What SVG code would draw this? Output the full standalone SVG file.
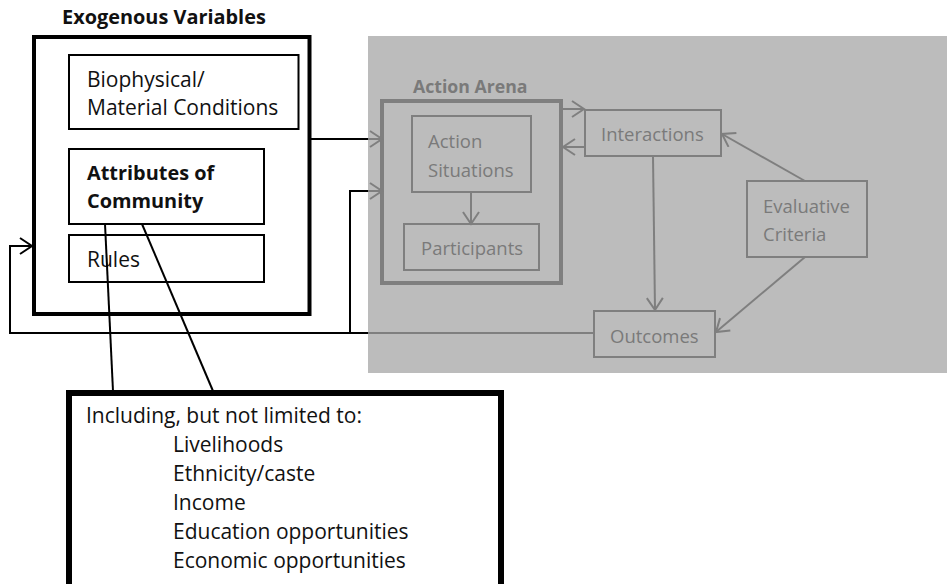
<svg xmlns="http://www.w3.org/2000/svg" width="947" height="584" viewBox="0 0 947 584">
  <style>
    text { font-family: "Open Sans", "Liberation Sans", sans-serif; font-size: 18.5px; }
    .b { font-weight: bold; }
    .dk { fill: #111; font-size: 21px; }
    .dk.b { font-size: 19.9px; }
    .gy { fill: #7a7a7a; }
    .gy.b { font-size: 17.7px; }
    .box { fill: none; stroke: #000; stroke-width: 2; }
    .gbox { fill: none; stroke: #7f7f7f; stroke-width: 2; }
    .ln { fill: none; stroke: #000; stroke-width: 2; }
    .gln { fill: none; stroke: #7f7f7f; stroke-width: 2; }
  </style>
  <defs>
    <marker id="ah" markerUnits="userSpaceOnUse" markerWidth="16" markerHeight="20" refX="13" refY="9" orient="auto">
      <path d="M1,1 L13,9 L1,17" fill="none" stroke="#000" stroke-width="2"/>
    </marker>
    <marker id="ahg" markerUnits="userSpaceOnUse" markerWidth="16" markerHeight="20" refX="13" refY="9" orient="auto">
      <path d="M1,1 L13,9 L1,17" fill="none" stroke="#7f7f7f" stroke-width="2"/>
    </marker>
  </defs>

  <rect width="947" height="584" fill="#fff"/>

  <!-- shaded panel behind the action arena part -->
  <rect id="panel" x="368" y="36" width="579" height="337" fill="#bcbcbc"/>

  <!-- exogenous variables -->
  <g id="exogenous">
    <text class="b dk" x="62" y="24">Exogenous Variables</text>
    <rect x="34" y="37" width="275.5" height="277" fill="none" stroke="#000" stroke-width="4"/>
  </g>
  <g id="biophysical">
    <rect class="box" x="69" y="55" width="229.5" height="74"/>
    <text class="dk" x="87" y="87">Biophysical/</text>
    <text class="dk" x="87" y="115">Material Conditions</text>
  </g>
  <g id="attributes">
    <rect class="box" x="69" y="149" width="195" height="75"/>
    <text class="b dk" x="87" y="180">Attributes of</text>
    <text class="b dk" x="87" y="208">Community</text>
  </g>
  <g id="rules">
    <rect class="box" x="69" y="235" width="195" height="47"/>
    <text class="dk" x="87" y="267">Rules</text>
  </g>

  <!-- action arena -->
  <g id="action-arena">
    <text class="b gy" x="413" y="93">Action Arena</text>
    <rect x="382" y="101" width="179" height="182" fill="none" stroke="#7f7f7f" stroke-width="4"/>
  </g>
  <g id="action-situations">
    <rect class="gbox" x="412" y="116" width="119" height="76"/>
    <text class="gy" x="428" y="148">Action</text>
    <text class="gy" x="428" y="177">Situations</text>
  </g>
  <g id="participants">
    <rect class="gbox" x="404" y="224" width="135" height="46"/>
    <text class="gy" x="421" y="255">Participants</text>
  </g>
  <g id="interactions">
    <rect class="gbox" x="585" y="110" width="136" height="46"/>
    <text class="gy" x="601" y="141">Interactions</text>
  </g>
  <g id="evaluative-criteria">
    <rect class="gbox" x="747" y="181" width="120" height="76"/>
    <text class="gy" x="763" y="213">Evaluative</text>
    <text class="gy" x="763" y="241">Criteria</text>
  </g>
  <g id="outcomes">
    <rect class="gbox" x="594" y="311" width="121" height="46"/>
    <text class="gy" x="610" y="343">Outcomes</text>
  </g>

  <!-- detail callout -->
  <g id="callout">
    <rect x="69" y="393" width="432" height="200" fill="none" stroke="#000" stroke-width="6"/>
    <text class="dk" x="86" y="423">Including, but not limited to:</text>
    <text class="dk" x="173" y="452">Livelihoods</text>
    <text class="dk" x="173" y="481">Ethnicity/caste</text>
    <text class="dk" x="173" y="510">Income</text>
    <text class="dk" x="173" y="539">Education opportunities</text>
    <text class="dk" x="173" y="568">Economic opportunities</text>
  </g>

  <!-- connectors -->
  <g id="connectors">
    <!-- exogenous variables into the arena -->
    <line class="ln" x1="311" y1="139" x2="368" y2="139"/>
    <line class="gln" x1="368" y1="139" x2="382" y2="139" marker-end="url(#ahg)"/>
    <!-- outcomes feedback -->
    <line class="gln" x1="594" y1="333" x2="368" y2="333"/>
    <polyline class="ln" points="368,333 10,333 10,246 32,246" marker-end="url(#ah)"/>
    <polyline class="ln" points="350,333 350,191 368,191"/>
    <line class="gln" x1="368" y1="191" x2="382" y2="191" marker-end="url(#ahg)"/>
    <!-- arena internals -->
    <line class="gln" x1="471" y1="192" x2="471" y2="224" marker-end="url(#ahg)"/>
    <line class="gln" x1="562" y1="109" x2="584" y2="109" marker-end="url(#ahg)"/>
    <line class="gln" x1="585" y1="147" x2="563" y2="147" marker-end="url(#ahg)"/>
    <line class="gln" x1="653" y1="156" x2="655" y2="310" marker-end="url(#ahg)"/>
    <line class="gln" x1="805" y1="181" x2="722" y2="134" marker-end="url(#ahg)"/>
    <line class="gln" x1="805" y1="257" x2="716" y2="332" marker-end="url(#ahg)"/>
    <!-- callout leaders -->
    <line class="ln" x1="105" y1="224" x2="113" y2="391"/>
    <line class="ln" x1="142" y1="224" x2="213" y2="391"/>
  </g>
</svg>
